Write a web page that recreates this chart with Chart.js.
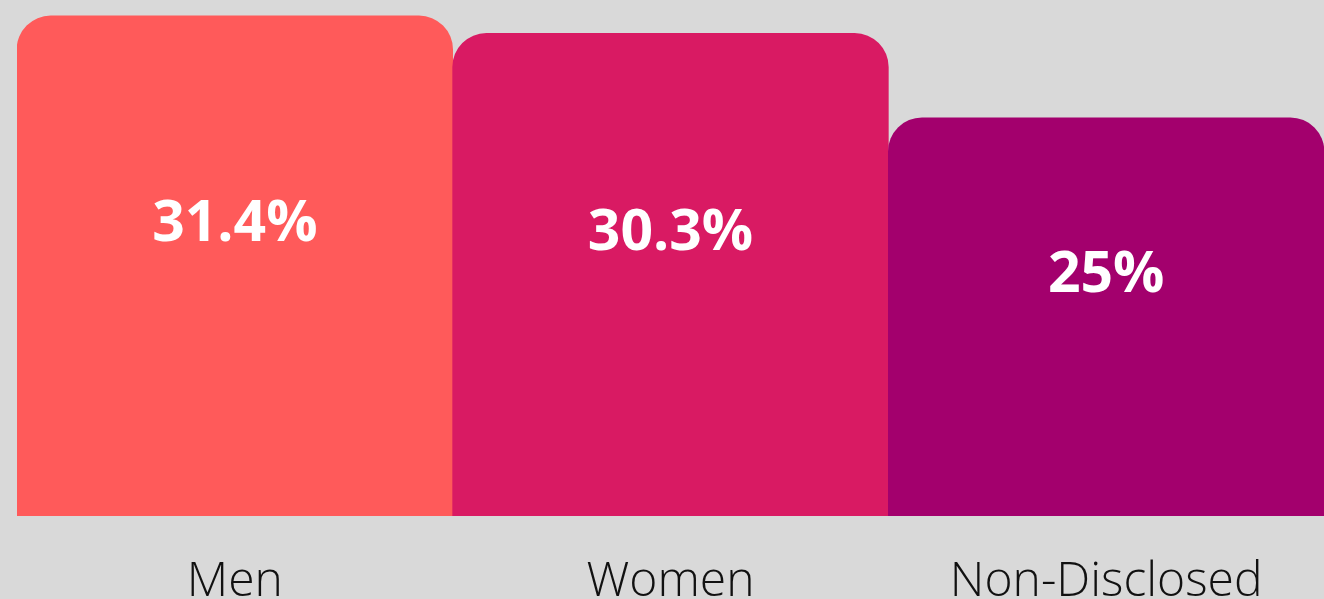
<!DOCTYPE html>
<html>
<head>
<meta charset="utf-8">
<script src="https://cdn.jsdelivr.net/npm/chart.js@4"></script>
<style>
    html, body { margin: 0; padding: 0; background: #d9d9d9; }
    .wrap { position: relative; width: 1324px; height: 599px; }
</style>
</head>
<body>
<div class="wrap"><canvas id="chart"></canvas></div>
<script>
    const categorias = ['Men', 'Women', 'Non-Disclosed'];
    const porcentajes = [31.4, 30.3, 25];
    const etiquetas = ['31.4%', '30.3%', '25%'];
    const colores = ['#ff5a5a', '#d91a63', '#a3006d'];

    // dibuja el texto blanco dentro de cada barra
    const etiquetasBarras = {
        id: 'etiquetasBarras',
        afterDatasetsDraw: function (chart) {
            const ctx = chart.ctx;
            const meta = chart.getDatasetMeta(0);
            ctx.save();
            ctx.fillStyle = '#ffffff';
            ctx.font = 'bold 57px "Open Sans"';
            ctx.textAlign = 'center';
            ctx.textBaseline = 'middle';
            meta.data.forEach(function (bar, i) {
                const y = (bar.y + bar.base) / 2 - 41;
                ctx.fillText(etiquetas[i], bar.x, y);
            });
            ctx.restore();
        }
    };

    new Chart(document.getElementById('chart').getContext('2d'), {
        type: 'bar',
        data: {
            labels: categorias,
            datasets: [
                {
                    data: porcentajes,
                    backgroundColor: colores,
                    borderRadius: 34,
                    borderSkipped: 'bottom',
                    barPercentage: 1,
                    categoryPercentage: 1
                }
            ]
        },
        options: {
            responsive: true,
            maintainAspectRatio: false,
            animation: false,
            layout: {
                padding: { left: 17, right: 0, top: 0, bottom: 0 }
            },
            plugins: {
                legend: { display: false },
                tooltip: { enabled: false }
            },
            scales: {
                x: {
                    grid: { display: false },
                    border: { display: false },
                    ticks: {
                        color: '#111111',
                        padding: 30,
                        font: { family: '"Open Sans"', size: 48, weight: 300 }
                    },
                    afterFit: function (scale) {
                        scale.height = 83;
                    }
                },
                y: {
                    display: false,
                    min: 0,
                    max: 32.4
                }
            }
        },
        plugins: [etiquetasBarras]
    });
</script>
</body>
</html>
